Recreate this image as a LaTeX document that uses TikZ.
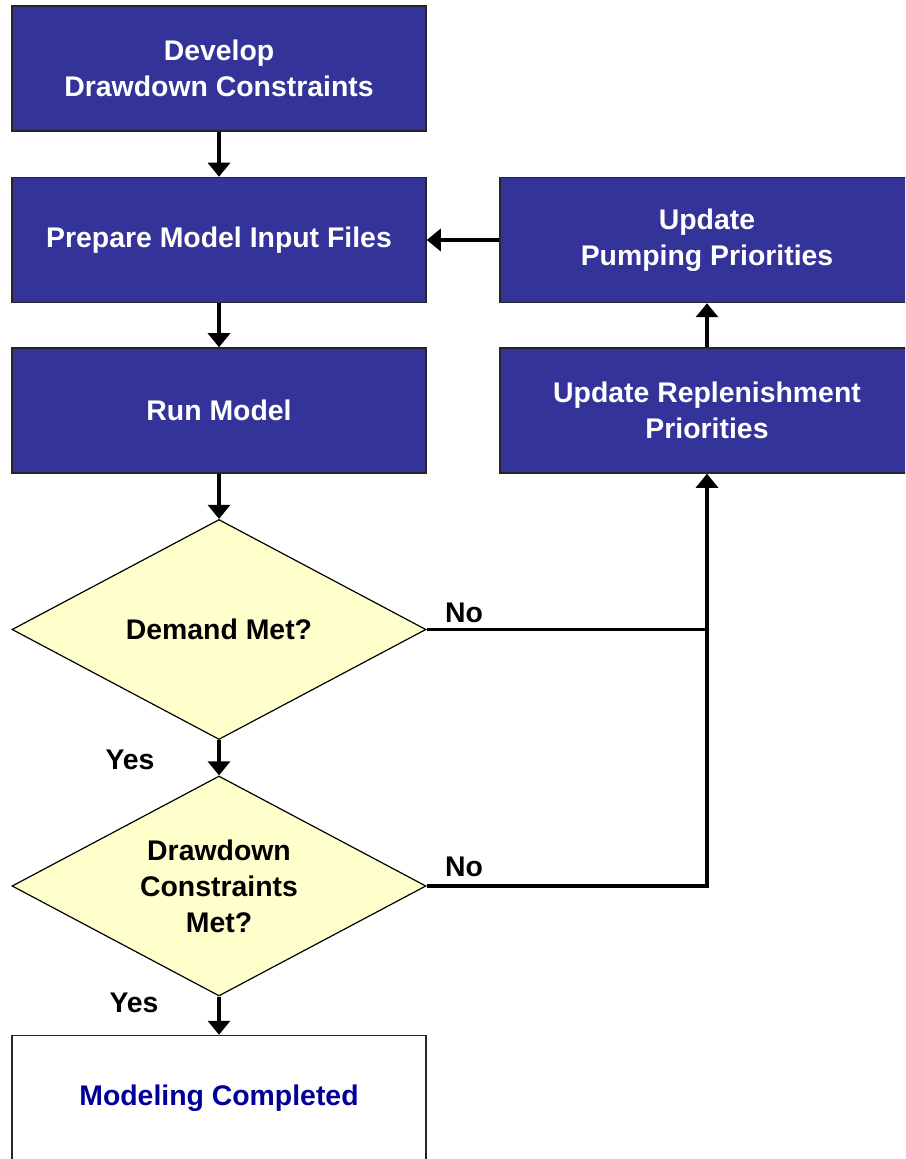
\documentclass[tikz,border=0pt]{standalone}
\usepackage{fontspec}
\setmainfont{Liberation Sans}
\usetikzlibrary{shapes.geometric,arrows.meta}
\definecolor{boxblue}{RGB}{51,51,153}
\definecolor{askyellow}{RGB}{255,255,204}
\definecolor{doneblue}{RGB}{0,0,153}
\tikzset{
	stepbox/.style={draw=black!85, line width=0.75pt, fill=boxblue, text=white, minimum width=207pt, minimum height=62.5pt, align=center, font=\bfseries\fontsize{14.2}{18}\selectfont},
	askbox/.style={draw=black, line width=0.6pt, fill=askyellow, diamond, aspect=1.88, inner sep=0pt, minimum width=207pt, minimum height=110pt, align=center, font=\bfseries\fontsize{14.2}{18}\selectfont},
	endbox/.style={stepbox, fill=white, text=doneblue},
	answer/.style={font=\bfseries\fontsize{14.2}{18}\selectfont}
}
\begin{document}
\begin{tikzpicture}[x=0.5pt, y=-0.5pt, >={Triangle[width=11pt,length=7pt]}]
		\clip (0,0) rectangle (905,1159);
		\node (A)[stepbox] at (219,68.5) {Develop\\Drawdown Constraints};
		\node (B)[stepbox] at (219,240) {Prepare Model Input Files};
		\node (C)[stepbox] at (219,410.5) {Run Model};
		\node (D)[stepbox] at (707,240) {Update\\Pumping Priorities};
		\node (E)[stepbox] at (707,410.5) {Update Replenishment\\Priorities};
		\node (Q1)[askbox] at (219,629.5) {Demand Met?};
		\node (Q2)[askbox] at (219,886) {Drawdown\\Constraints\\Met?};
		\node (F)[endbox] at (219,1098) {Modeling Completed};
		\node (N1)[answer] at (464,613) {No};
		\node (N2)[answer] at (464,867) {No};
		\node (Y1)[answer] at (130,760) {Yes};
		\node (Y2)[answer] at (134,1003) {Yes};
		\foreach \a/\b in {A/B, B/C, C/Q1, Q1/Q2, Q2/F, E/D}
		{
			\draw[->, line width=1.6pt](\a)--(\b);
		}
		\draw[->, line width=1.6pt](D)--(B);
		\draw[line width=1.6pt](Q1.east)--(Q1.east -| E.south);
		\draw[->, line width=1.6pt](Q2.east)-|(E.south);
\end{tikzpicture}
\end{document}
